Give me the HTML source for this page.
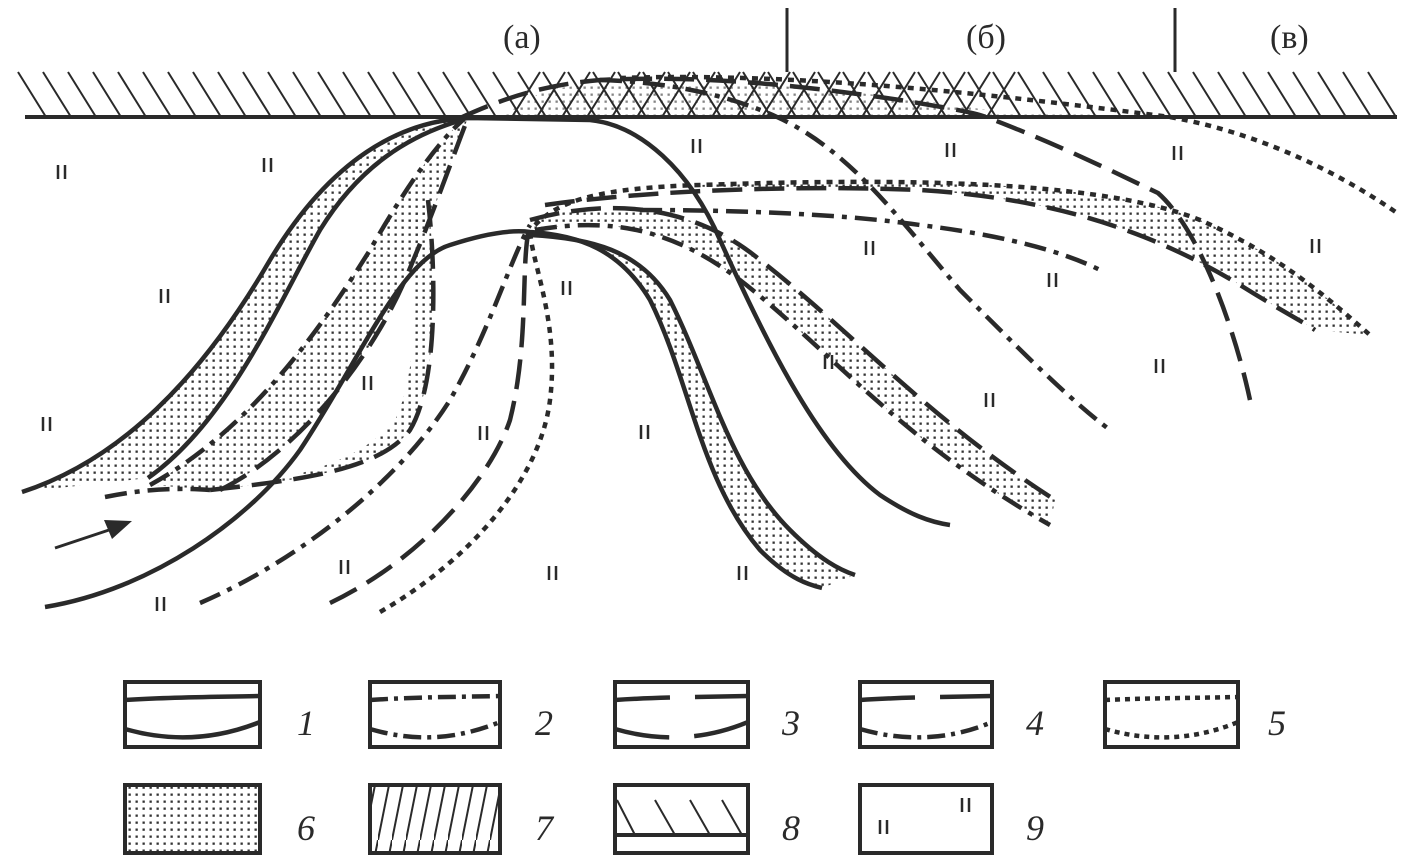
<!DOCTYPE html>
<html><head><meta charset="utf-8"><style>
body{margin:0;background:#fff;}
svg{display:block;}
.l{fill:none;stroke:#2a2a2a;stroke-width:4.5;}
.da{stroke-dasharray:30 12;}
.dd{stroke-dasharray:22 8 5 8;}
.dt{stroke-dasharray:6 6;}
.lab{font-family:"Liberation Serif",serif;font-size:34px;fill:#2a2a2a;}
.num{font-family:"Liberation Serif",serif;font-size:36px;font-style:italic;fill:#2a2a2a;}
</style></head><body>
<svg width="1411" height="863" viewBox="0 0 1411 863" xmlns="http://www.w3.org/2000/svg">
<defs>
<pattern id="dots" width="7" height="7" patternUnits="userSpaceOnUse"><rect x="2.5" y="2.5" width="2.3" height="2.3" fill="#333"/></pattern>
<pattern id="h7" width="14" height="70" patternUnits="userSpaceOnUse"><line x1="14" y1="0" x2="0" y2="70" stroke="#2a2a2a" stroke-width="2"/></pattern>
</defs>

<text class="lab" x="503" y="48">(а)</text>
<text class="lab" x="966" y="48">(б)</text>
<text class="lab" x="1270" y="48">(в)</text>
<line x1="787" y1="8" x2="787" y2="72" stroke="#2a2a2a" stroke-width="3"/>
<line x1="1175" y1="8" x2="1175" y2="72" stroke="#2a2a2a" stroke-width="3"/>

<!-- stipple in crest -->
<path d="M545,90 C640,75 800,80 1000,112 L1170,117 L500,117Z" fill="url(#dots)" opacity="0.6"/>

<!-- hatch -->
<g stroke="#2a2a2a" stroke-width="2">
<path d="M18,72 l28,45 M43,72 l28,45 M68,72 l28,45 M93,72 l28,45 M118,72 l28,45 M143,72 l28,45 M168,72 l28,45 M193,72 l28,45 M218,72 l28,45 M243,72 l28,45 M268,72 l28,45 M293,72 l28,45 M318,72 l28,45 M343,72 l28,45 M368,72 l28,45 M393,72 l28,45 M418,72 l28,45 M443,72 l28,45 M468,72 l28,45 M493,72 l28,45 M518,72 l28,45 M543,72 l28,45 M568,72 l28,45 M593,72 l28,45 M618,72 l28,45 M643,72 l28,45 M668,72 l28,45 M693,72 l28,45 M718,72 l28,45 M743,72 l28,45 M768,72 l28,45 M793,72 l28,45 M818,72 l28,45 M843,72 l28,45 M868,72 l28,45 M893,72 l28,45 M918,72 l28,45 M943,72 l28,45 M968,72 l28,45 M993,72 l28,45 M1018,72 l28,45 M1043,72 l28,45 M1068,72 l28,45 M1093,72 l28,45 M1118,72 l28,45 M1143,72 l28,45 M1168,72 l28,45 M1193,72 l28,45 M1218,72 l28,45 M1243,72 l28,45 M1268,72 l28,45 M1293,72 l28,45 M1318,72 l28,45 M1343,72 l28,45 M1368,72 l28,45"/>
<path d="M540,72 l-28,45 M565,72 l-28,45 M590,72 l-28,45 M615,72 l-28,45 M640,72 l-28,45 M665,72 l-28,45 M690,72 l-28,45 M715,72 l-28,45 M740,72 l-28,45 M765,72 l-28,45 M790,72 l-28,45 M815,72 l-28,45 M840,72 l-28,45 M865,72 l-28,45 M890,72 l-28,45 M915,72 l-28,45 M940,72 l-28,45 M965,72 l-28,45 M990,72 l-28,45 M1015,72 l-28,45"/>
</g>
<line x1="25" y1="117" x2="1397" y2="117" stroke="#2a2a2a" stroke-width="4"/>

<!-- stipple bands -->
<path d="M22,492 C120,460 200,380 270,260 C330,160 400,120 470,118 L462,120 C410,135 360,165 320,230 C280,300 230,420 148,478 Z" fill="url(#dots)"/>
<path d="M150,485 C250,430 320,330 370,250 C410,180 440,140 465,118 L468,118 C455,150 435,210 405,280 C370,360 300,450 220,490 Z" fill="url(#dots)"/>
<path d="M428,200 C435,260 440,380 410,430 C380,470 300,480 210,490 L250,485 C330,470 370,450 395,420 C420,370 418,260 410,220Z" fill="url(#dots)"/>
<path d="M530,232 C580,235 620,250 650,300 C690,380 700,480 760,550 C790,580 810,585 822,588 L855,575 C840,570 820,560 790,530 C730,470 710,380 670,300 C640,250 590,238 530,235Z" fill="url(#dots)"/>
<path d="M530,220 C620,195 700,210 760,260 C850,330 930,420 1055,500 L1050,525 C900,440 830,350 740,280 C680,235 620,215 535,230Z" fill="url(#dots)"/>
<path d="M700,185 C900,178 1100,180 1200,220 C1280,255 1330,300 1370,335 L1315,330 C1300,320 1280,310 1240,285 C1150,230 1050,198 920,190 C800,185 740,187 700,190Z" fill="url(#dots)"/>

<!-- solid lines -->
<path class="l" d="M22,492 C120,460 200,380 270,260 C330,160 400,120 470,118 L590,120 C640,125 690,170 720,240 C770,350 820,450 880,495 C910,515 930,522 950,525"/>
<path class="l" d="M148,478 C230,420 280,300 320,230 C360,165 410,135 462,120"/>
<path class="l" d="M45,607 C150,590 250,520 300,450 C360,360 400,260 450,245 C490,232 515,230 530,232 C580,235 620,250 650,300 C690,380 700,480 760,550 C790,580 810,585 822,588"/>
<path class="l" d="M530,235 C590,238 640,250 670,300 C710,380 730,470 790,530 C820,560 840,570 855,575"/>

<!-- dash-dot -->
<path class="l dd" d="M150,485 C250,430 320,330 370,250 C410,180 440,140 465,118"/>
<path class="l dd" d="M200,603 C300,560 400,480 450,400 C490,330 510,260 530,225"/>
<path class="l dd" d="M535,230 C620,215 680,235 740,280 C830,350 900,440 1050,525"/>
<path class="l dd" d="M640,210 C750,210 850,215 920,225 C1000,235 1060,250 1100,270"/>
<path class="l dd" d="M600,80 C680,82 740,100 777,117 C850,150 900,220 960,290 C1020,350 1070,400 1110,430"/>
<path class="l dd" d="M105,497 C150,488 180,488 210,490"/>

<!-- dashed -->
<path class="l da" d="M220,490 C300,450 370,360 405,280 C435,210 455,150 468,118"/>
<path class="l da" d="M210,490 C300,480 380,470 410,430 C440,380 435,260 428,200"/>
<path class="l da" d="M330,603 C420,560 490,480 510,420 C530,340 520,260 530,225"/>
<path class="l da" d="M530,220 C620,195 700,210 760,260 C850,330 930,420 1055,500"/>
<path class="l da" d="M545,205 C650,190 800,185 920,190 C1050,198 1150,230 1240,285 C1280,310 1300,320 1315,330"/>
<path class="l da" d="M460,118 C500,100 540,85 600,80 C700,75 800,85 900,100 C950,108 975,113 986,117 C1060,145 1120,175 1158,193 C1200,230 1235,330 1250,400"/>

<!-- dotted -->
<path class="l dt" d="M380,612 C470,560 540,480 550,400 C560,320 530,260 530,228"/>
<path class="l dt" d="M535,225 C560,200 600,188 700,185 C900,178 1100,180 1200,220 C1280,255 1330,300 1370,335"/>
<path class="l dt" d="M620,78 C800,72 1000,95 1170,117 C1270,135 1350,180 1400,215"/>

<!-- arrow -->
<line x1="55" y1="548" x2="115" y2="528" stroke="#2a2a2a" stroke-width="3"/>
<polygon points="132,521 104,520 112,539" fill="#2a2a2a"/>

<g stroke="#2a2a2a" stroke-width="2.5">
<path d="M0,0 v14 M7,0 v14" transform="translate(58,165)"/>
<path d="M0,0 v14 M7,0 v14" transform="translate(264,158)"/>
<path d="M0,0 v14 M7,0 v14" transform="translate(161,289)"/>
<path d="M0,0 v14 M7,0 v14" transform="translate(43,417)"/>
<path d="M0,0 v14 M7,0 v14" transform="translate(364,376)"/>
<path d="M0,0 v14 M7,0 v14" transform="translate(693,139)"/>
<path d="M0,0 v14 M7,0 v14" transform="translate(947,143)"/>
<path d="M0,0 v14 M7,0 v14" transform="translate(1174,146)"/>
<path d="M0,0 v14 M7,0 v14" transform="translate(866,241)"/>
<path d="M0,0 v14 M7,0 v14" transform="translate(1049,273)"/>
<path d="M0,0 v14 M7,0 v14" transform="translate(1312,239)"/>
<path d="M0,0 v14 M7,0 v14" transform="translate(563,281)"/>
<path d="M0,0 v14 M7,0 v14" transform="translate(825,355)"/>
<path d="M0,0 v14 M7,0 v14" transform="translate(1156,359)"/>
<path d="M0,0 v14 M7,0 v14" transform="translate(986,393)"/>
<path d="M0,0 v14 M7,0 v14" transform="translate(480,426)"/>
<path d="M0,0 v14 M7,0 v14" transform="translate(641,425)"/>
<path d="M0,0 v14 M7,0 v14" transform="translate(341,560)"/>
<path d="M0,0 v14 M7,0 v14" transform="translate(549,566)"/>
<path d="M0,0 v14 M7,0 v14" transform="translate(739,566)"/>
<path d="M0,0 v14 M7,0 v14" transform="translate(157,597)"/>
</g>

<g>
<rect x="125" y="682" width="135" height="65" fill="none" stroke="#2a2a2a" stroke-width="4"/>
<path class="l" d="M125,700 C170,697 215,697 260,696 M125,729 C170,742 215,740 260,722"/>
<text class="num" x="297" y="735">1</text>
<rect x="370" y="682" width="130" height="65" fill="none" stroke="#2a2a2a" stroke-width="4"/>
<path class="l" style="stroke-dasharray:18 6 4 6" d="M370,700 C415,697 455,697 500,696 M370,729 C415,742 455,740 500,722"/>
<text class="num" x="535" y="735">2</text>
<rect x="615" y="682" width="133" height="65" fill="none" stroke="#2a2a2a" stroke-width="4"/>
<path class="l" style="stroke-dasharray:55 25" d="M615,700 C660,697 705,697 748,696 M615,729 C660,742 705,740 748,722"/>
<text class="num" x="782" y="735">3</text>
<rect x="860" y="682" width="132" height="65" fill="none" stroke="#2a2a2a" stroke-width="4"/>
<path class="l" style="stroke-dasharray:55 25" d="M860,700 C905,697 950,697 992,696"/>
<path class="l" style="stroke-dasharray:18 6 4 6" d="M860,729 C905,742 950,740 992,722"/>
<text class="num" x="1026" y="735">4</text>
<rect x="1105" y="682" width="133" height="65" fill="none" stroke="#2a2a2a" stroke-width="4"/>
<path class="l" style="stroke-dasharray:5 5" d="M1105,700 C1150,698 1195,698 1238,697 M1105,729 C1150,742 1195,740 1238,722"/>
<text class="num" x="1268" y="735">5</text>
</g>
<g>
<rect x="125" y="785" width="135" height="68" fill="url(#dots)" stroke="#2a2a2a" stroke-width="4"/>
<text class="num" x="297" y="840">6</text>
<rect x="370" y="785" width="130" height="68" fill="url(#h7)" stroke="#2a2a2a" stroke-width="4"/>
<text class="num" x="535" y="840">7</text>
<rect x="615" y="785" width="133" height="68" fill="none" stroke="#2a2a2a" stroke-width="4"/>
<line x1="615" y1="835" x2="748" y2="835" stroke="#2a2a2a" stroke-width="4"/>
<g stroke="#2a2a2a" stroke-width="2"><line x1="617" y1="800" x2="635" y2="835"/><line x1="655" y1="800" x2="675" y2="835"/><line x1="690" y1="800" x2="710" y2="835"/><line x1="722" y1="800" x2="742" y2="835"/></g>
<text class="num" x="782" y="840">8</text>
<rect x="860" y="785" width="132" height="68" fill="none" stroke="#2a2a2a" stroke-width="4"/>
<path d="M0,0 v14 M7,0 v14" transform="translate(880,820)" stroke="#2a2a2a" stroke-width="2.5"/>
<path d="M0,0 v14 M7,0 v14" transform="translate(962,798)" stroke="#2a2a2a" stroke-width="2.5"/>
<text class="num" x="1026" y="840">9</text>
</g>
</svg>
</body></html>
